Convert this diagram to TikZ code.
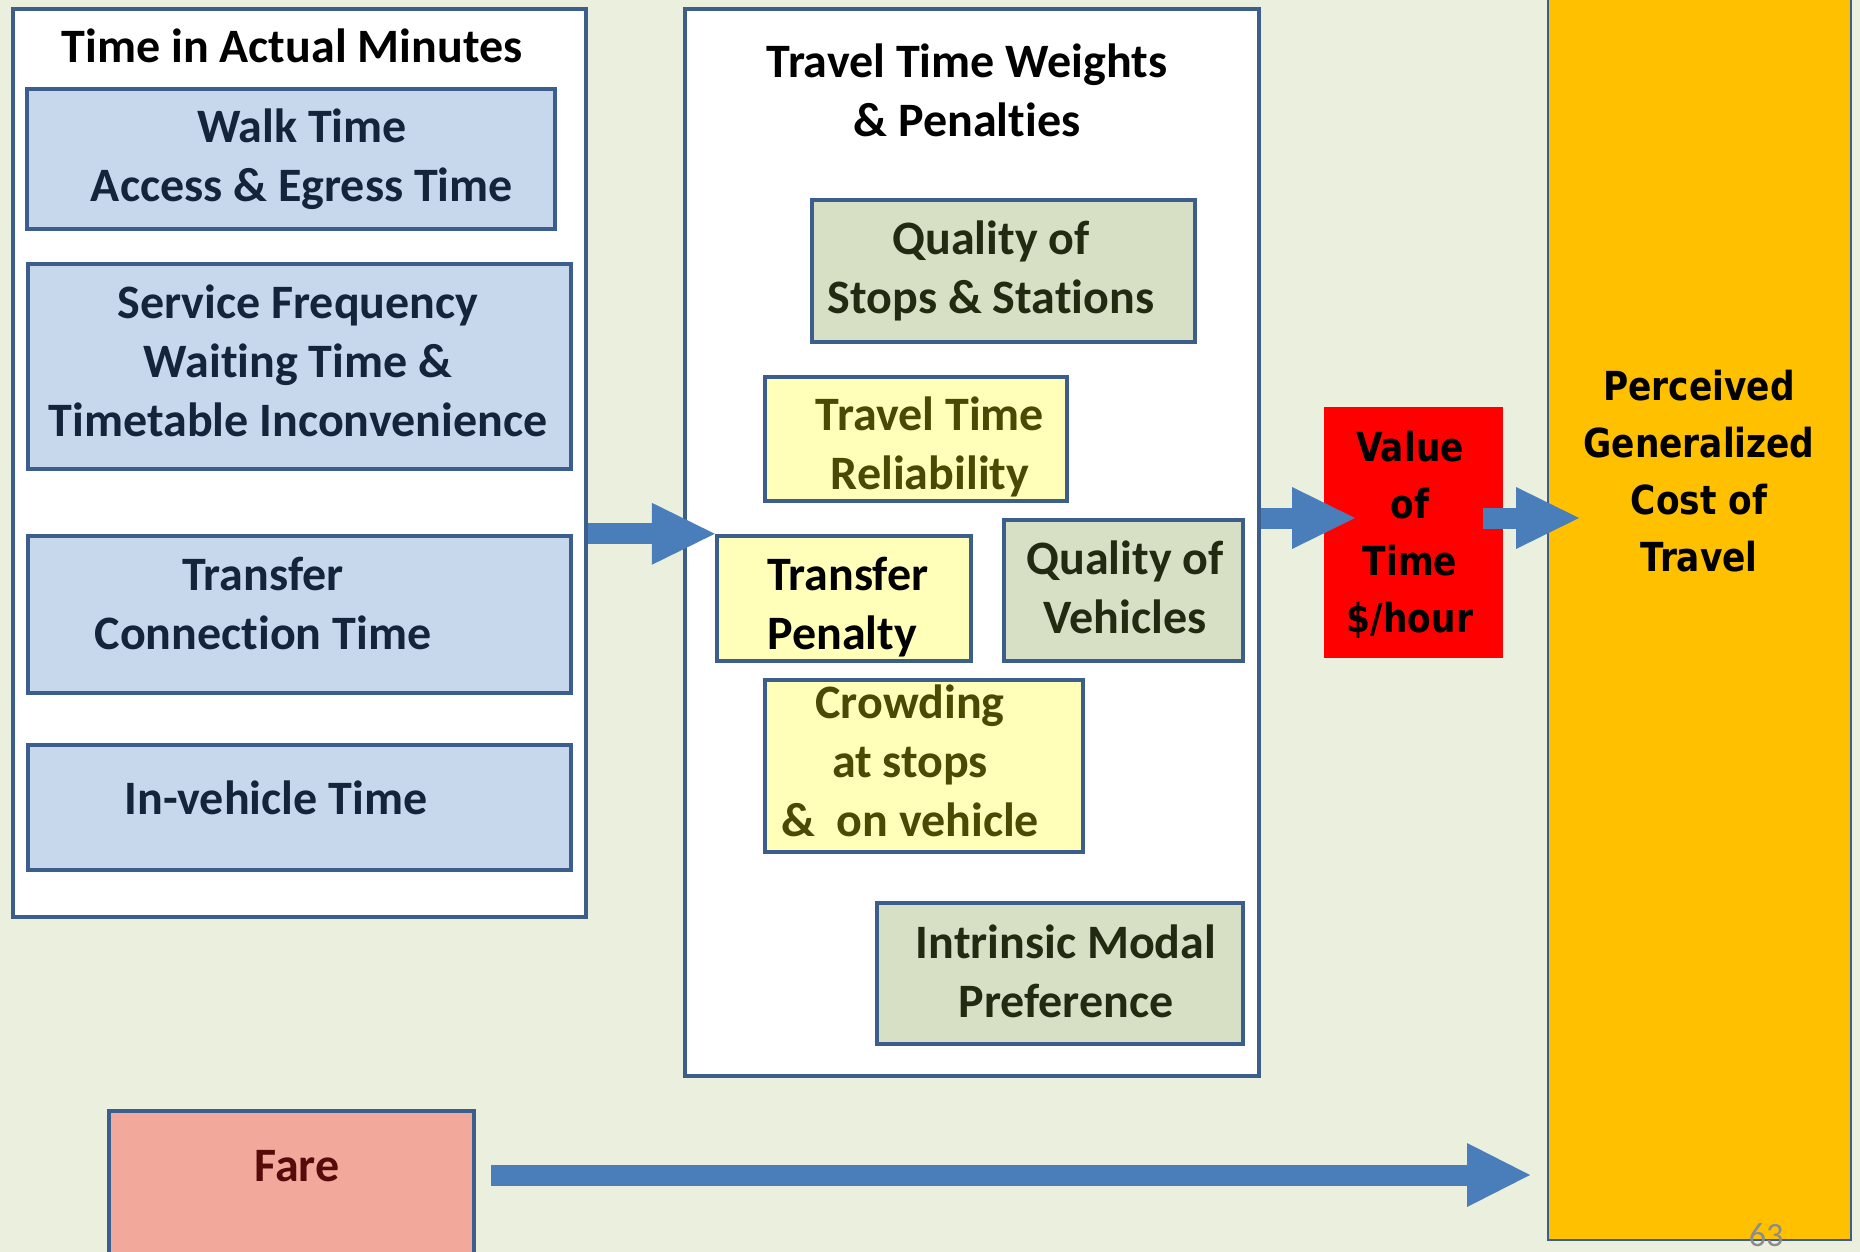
\documentclass[tikz,border=0pt]{standalone}
\usepackage{fontspec}
\setmainfont{Carlito}[Ligatures=NoCommon, Contextuals=NoAlternate]
\newfontfamily\widefont{DejaVu Sans}[FakeStretch=0.86]
\usetikzlibrary{fit,arrows.meta}
\definecolor{bgc}{HTML}{EBF0DE}
\definecolor{bordc}{HTML}{3B5E8C}
\definecolor{bluef}{HTML}{C8D8EC}
\definecolor{bluet}{HTML}{14243A}
\definecolor{olivef}{HTML}{D7E0C5}
\definecolor{olivet}{HTML}{222A12}
\definecolor{yelf}{HTML}{FFFFB9}
\definecolor{yelt}{HTML}{4A4A05}
\definecolor{faref}{HTML}{F2A99B}
\definecolor{faret}{HTML}{560A0A}
\definecolor{orangef}{HTML}{FFC000}
\definecolor{arrowc}{HTML}{4A7EBB}
\definecolor{pgc}{HTML}{8C8C8C}
\tikzset{
  frame/.style={draw=bordc, line width=2.2pt, fill=white, inner sep=0pt},
  bluebox/.style={frame, fill=bluef},
  olivebox/.style={frame, fill=olivef},
  yelbox/.style={frame, fill=yelf},
  txt/.style={font=\bfseries\fontsize{24}{29.5}\selectfont, align=center, inner sep=0pt},
  widetxt/.style={font=\widefont\bfseries\fontsize{20}{28.5}\selectfont, align=center, inner sep=0pt},
  blockarrow/.style={draw=arrowc, line width=10.5pt, -{Triangle[length=31.5pt,width=31pt,line width=0pt]}},
  farearrow/.style={draw=arrowc, line width=10.5pt, -{Triangle[length=31.5pt,width=32pt,line width=0pt]}}
}
\begin{document}
\begin{tikzpicture}[x=0.5pt,y=-0.5pt]
\useasboundingbox (0,0) rectangle (1860,1252);
\fill[bgc] (0,0) rectangle (1860,1252);

% left group
\node[frame, fit={(13,9) (586,917)}] (leftbox) {};
\node[txt] (leftT) at (292,46) {Time in Actual Minutes};
\node[bluebox, fit={(27,89) (555,229)}] (walk) {};
\node[txt, text=bluet] (walkT) at (302,159) {Walk Time\\Access \& Egress Time};
\node[bluebox, fit={(28,264) (571,469)}] (serv) {};
\node[txt, text=bluet] (servT) at (298,361) {Service Frequency\\Waiting Time \&\\Timetable Inconvenience};
\node[bluebox, fit={(28,536) (571,693)}] (trans) {};
\node[txt, text=bluet] (transT) at (263,603) {Transfer\\Connection Time};
\node[bluebox, fit={(28,745) (571,870)}] (inveh) {};
\node[txt, text=bluet] (invehT) at (276,798) {In-vehicle Time};

% middle group
\node[frame, fit={(685,9) (1259,1076)}] (midbox) {};
\node[txt] (midT) at (967,90) {Travel Time Weights\\\& Penalties};
\node[olivebox, fit={(812,200) (1195,342)}] (qstops) {};
\node[txt, text=olivet] (qstopsT) at (991,271) {Quality of\\Stops \& Stations};
\node[yelbox, fit={(765,377) (1067,501)}] (ttr) {};
\node[txt, text=yelt] (ttrT) at (930,447) {Travel Time\\Reliability};
\node[yelbox, fit={(717,536) (971,661)}] (tpen) {};
\node[txt, align=left, anchor=west] (tpenT) at (767,607) {Transfer\\Penalty};
\node[olivebox, fit={(1004,520) (1243,661)}] (qveh) {};
\node[txt, text=olivet] (qvehT) at (1125,587) {Quality of\\Vehicles};
\node[yelbox, fit={(765,680) (1083,852)}] (crowd) {};
\node[txt, text=yelt] (crowdT) at (910,761) {Crowding\\at stops\\\&\ \ on vehicle};
\node[olivebox, fit={(877,903) (1243,1044)}] (intr) {};
\node[txt, text=olivet] (intrT) at (1066,971) {Intrinsic Modal\\Preference};

% right group
\node[fill=red, inner sep=0pt, fit={(1324,407) (1503,658)}] (vot) {};
\node[widetxt] (votT) at (1410,535) {Value\\of\\Time\\\$/hour};
\node[draw=bordc, line width=0.8pt, fill=orangef, inner sep=0pt, fit={(1548,-6) (1851,1240)}] (pgc) {};
\node[widetxt] (pgcT) at (1699,471) {Perceived\\Generalized\\Cost of\\Travel};

% fare
\node[draw=bordc, line width=1.8pt, fill=faref, inner sep=0pt, fit={(109,1111) (474,1290)}] (fare) {};
\node[txt, text=faret] (fareT) at (297,1166) {Fare};

\node[font=\fontsize{17}{20}\selectfont, text=pgc, anchor=base, inner sep=0pt] (pageno) at (1766,1246) {63};

% connectors
\coordinate (a2tip) at (1355,518);
\coordinate (a3start) at (1483,518);
\coordinate (a3tip) at (1579,518);
\coordinate (fstart) at (491,1175);
\coordinate (ftip) at (1530,1175);
\draw[blockarrow] (leftbox.east |- tpen.north west) -- (tpen.north west);
\draw[blockarrow] (midbox.east |- a2tip) -- (a2tip);
\draw[blockarrow] (a3start) -- (a3tip);
\draw[farearrow] (fstart) -- (ftip);
\end{tikzpicture}
\end{document}
